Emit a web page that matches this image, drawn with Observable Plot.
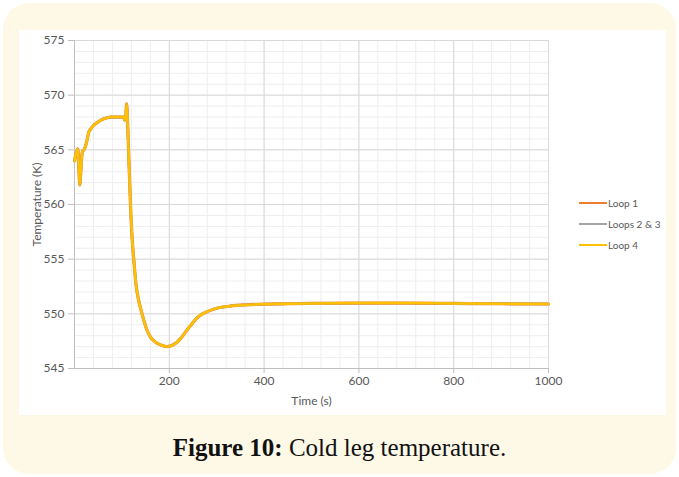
<!DOCTYPE html>
<html>
<head>
<meta charset="utf-8">
<script src="https://cdn.jsdelivr.net/npm/d3@7"></script>
<script src="https://cdn.jsdelivr.net/npm/@observablehq/plot@0.6"></script>
<style>
  html, body { margin: 0; padding: 0; background: #ffffff; }
  #page { position: relative; width: 679px; height: 477px; overflow: hidden; }
  #outer { position: absolute; left: 3px; top: 3px; width: 673px; height: 471px; background: #fef9e7; border-radius: 26px; }
  #panel { position: absolute; left: 19px; top: 30px; width: 647px; height: 385px; background: #ffffff; }
  #chart { position: absolute; left: 0; top: 0; }
  #chart svg g[aria-label$="label"] text { font-size: 12px; }
  #legend { position: absolute; left: 579px; top: 192px; font: 10px Lato, sans-serif; color: #595959; }
  .row { display: flex; align-items: center; height: 21px; }
  .sw { width: 28px; height: 2px; margin-right: 1px; }
  #caption { position: absolute; left: 0; width: 679px; top: 434px; text-align: center; font: 25px "Liberation Serif", serif; color: #111; }
</style>
</head>
<body>
<div id="page">
  <div id="outer"></div>
  <div id="panel"></div>
  <div id="chart"></div>
  <div id="legend"></div>
  <div id="caption"><b>Figure 10:</b> Cold leg temperature.</div>
</div>
<script>
// Time (s)
const time = [0, 3, 7, 9, 11, 13, 15, 17, 20, 23, 27, 30, 35, 41, 48, 55, 65, 76, 90, 100, 104, 106, 108, 110, 112, 114, 118, 122, 125, 130, 135, 140, 147, 153, 160, 168, 175, 185, 195, 205, 215, 225, 237, 248, 258, 268, 280, 295, 310, 330, 360, 400, 450, 500, 600, 700, 800, 900, 1000];
// Temperature (K)
const loop1 = [564.0, 564.6, 565.1, 563.6, 561.8, 562.8, 564.2, 564.9, 565.0, 565.3, 566.0, 566.6, 566.95, 567.25, 567.5, 567.7, 567.88, 568.0, 568.0, 568.0, 568.0, 567.7, 568.0, 569.2, 567.6, 565.0, 560.1, 556.6, 555.0, 552.6, 551.3, 550.4, 549.3, 548.5, 547.9, 547.5, 547.3, 547.1, 547.0, 547.1, 547.35, 547.8, 548.5, 549.1, 549.6, 549.95, 550.2, 550.45, 550.6, 550.72, 550.82, 550.88, 550.92, 550.95, 550.98, 550.98, 550.95, 550.92, 550.9];
const loops23 = [564.0, 564.6, 565.1, 563.6, 561.8, 562.8, 564.2, 564.9, 565.0, 565.3, 566.0, 566.6, 566.95, 567.25, 567.5, 567.7, 567.88, 568.0, 568.0, 568.0, 568.0, 567.7, 568.0, 569.2, 567.6, 565.0, 560.1, 556.6, 555.0, 552.6, 551.3, 550.4, 549.3, 548.5, 547.9, 547.5, 547.3, 547.1, 547.0, 547.1, 547.35, 547.8, 548.5, 549.1, 549.6, 549.95, 550.2, 550.45, 550.6, 550.72, 550.82, 550.88, 550.92, 550.95, 550.98, 550.98, 550.95, 550.92, 550.9];
const loop4 = [564.0, 564.6, 565.1, 563.6, 561.8, 562.8, 564.2, 564.9, 565.0, 565.3, 566.0, 566.6, 566.95, 567.25, 567.5, 567.7, 567.88, 568.0, 568.0, 568.0, 568.0, 567.7, 568.0, 569.2, 567.6, 565.0, 560.1, 556.6, 555.0, 552.6, 551.3, 550.4, 549.3, 548.5, 547.9, 547.5, 547.3, 547.1, 547.0, 547.1, 547.35, 547.8, 548.5, 549.1, 549.6, 549.95, 550.2, 550.45, 550.6, 550.72, 550.82, 550.88, 550.92, 550.95, 550.98, 550.98, 550.95, 550.92, 550.9];

const seriesNames = ["Loop 1", "Loops 2 & 3", "Loop 4"];
const seriesColors = ["#ed7d31", "#a5a5a5", "#ffc000"];
const xTicks = [200, 400, 600, 800, 1000];
const yTicks = [545, 550, 555, 560, 565, 570, 575];
const xMinor = d3.range(40, 1001, 40);
const yMinor = d3.range(546, 575, 1);

const rows = (vals) => time.map((t, i) => ({t, v: vals[i]}));

const chart = Plot.plot({
  width: 679,
  height: 477,
  marginLeft: 74,
  marginRight: 131,
  marginTop: 40,
  marginBottom: 109,
  style: { background: "transparent", fontFamily: "Lato, sans-serif", fontSize: "10px", color: "#595959" },
  x: { domain: [0, 1000] },
  y: { domain: [545, 575] },
  marks: [
    Plot.ruleX(xMinor, { stroke: "#eeeeee", strokeWidth: 1 }),
    Plot.ruleY(yMinor, { stroke: "#eeeeee", strokeWidth: 1 }),
    Plot.ruleX(xTicks, { stroke: "#d9d9d9", strokeWidth: 1 }),
    Plot.ruleY(yTicks, { stroke: "#d9d9d9", strokeWidth: 1 }),
    Plot.ruleX([0], { stroke: "#bfbfbf" }),
    Plot.ruleY([545], { stroke: "#bfbfbf" }),
    Plot.axisX({ ticks: xTicks, tickFormat: d => String(d), tickSize: 5, tickPadding: 3, stroke: "#bfbfbf", fill: "#595959",
      label: "Time (s)", labelAnchor: "center", labelArrow: "none", labelOffset: 36 }),
    Plot.axisY({ ticks: yTicks, tickFormat: d => String(d), tickSize: 6, tickPadding: 4, stroke: "#bfbfbf", fill: "#595959",
      label: "Temperature (K)", labelAnchor: "center", labelArrow: "none", labelOffset: 42 }),
    Plot.line(rows(loop1), { x: "t", y: "v", stroke: seriesColors[0], strokeWidth: 3.2, curve: "monotone-x" }),
    Plot.line(rows(loops23), { x: "t", y: "v", stroke: seriesColors[1], strokeWidth: 2.4, curve: "monotone-x" }),
    Plot.line(rows(loop4), { x: "t", y: "v", stroke: seriesColors[2], strokeWidth: 2.5, curve: "monotone-x" })
  ]
});
document.getElementById("chart").appendChild(chart);

const legend = document.getElementById("legend");
seriesNames.forEach((name, i) => {
  const row = document.createElement("div");
  row.className = "row";
  const sw = document.createElement("div");
  sw.className = "sw";
  sw.style.background = seriesColors[i];
  const label = document.createElement("span");
  label.textContent = name;
  row.appendChild(sw);
  row.appendChild(label);
  legend.appendChild(row);
});
</script>
</body>
</html>
